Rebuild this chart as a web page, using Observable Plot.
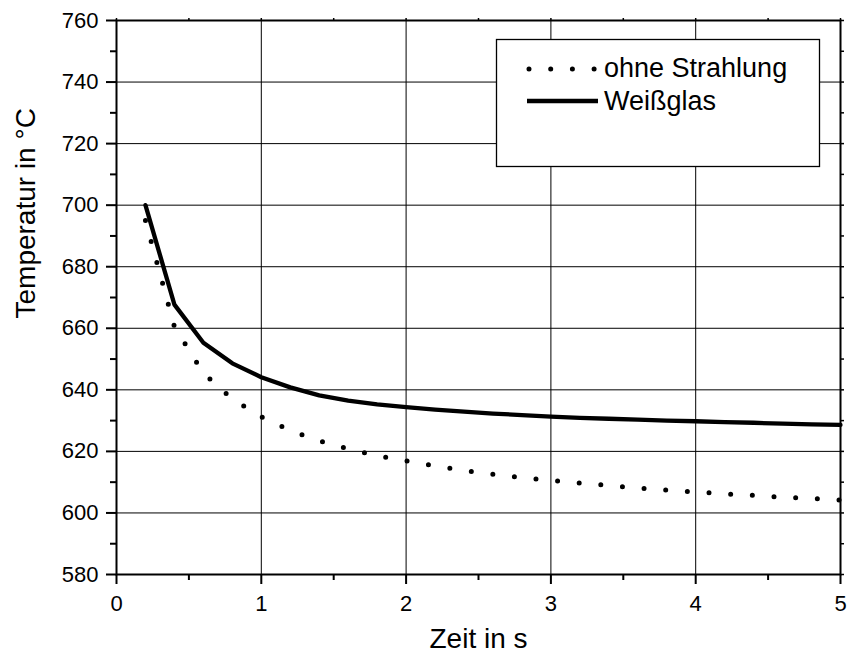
<!DOCTYPE html>
<html>
<head>
<meta charset="utf-8">
<script src="https://cdn.jsdelivr.net/npm/d3@7"></script>
<script src="https://cdn.jsdelivr.net/npm/@observablehq/plot@0.6"></script>
<style>
  html, body { margin: 0; padding: 0; background: #fff; }
  #wrap { position: relative; width: 849px; height: 664px; font-family: "Liberation Sans", Arial, sans-serif; }
  #legend { position: absolute; left: 0; top: 0; }
</style>
</head>
<body>
<div id="wrap"></div>
<script>
// Time in s
const timeS = [0.2,0.4,0.6,0.8,1.0,1.2,1.4,1.6,1.8,2.0,2.2,2.4,2.6,2.8,3.0,3.2,3.4,3.6,3.8,4.0,4.2,4.4,4.6,4.8,5.0];
// "ohne Strahlung" (dotted)
const ohneStrahlung = [695,660.5,645.4,637.0,631.2,626.8,623.4,620.8,618.6,616.9,615.3,613.8,612.6,611.5,610.6,609.7,608.9,608.1,607.4,606.8,606.2,605.7,605.1,604.7,604.2];
// "Weißglas" (solid)
const weissglas = [700,667.7,655.3,648.6,644.1,640.8,638.2,636.5,635.3,634.4,633.6,632.9,632.3,631.8,631.3,630.9,630.6,630.3,630.0,629.8,629.5,629.3,629.0,628.8,628.6];

const seriesNames = ["ohne Strahlung", "Weißglas"];
const xMajor = [0,1,2,3,4,5];
const xMinor = [0.5,1.5,2.5,3.5,4.5];
const yMajor = [580,600,620,640,660,680,700,720,740,760];
const yMinor = [590,610,630,650,670,690,710,730,750];
const xGrid = [1,2,3,4];
const yGrid = [600,620,640,660,680,700,720,740];

const dataOhne = timeS.map((t, i) => ({t, v: ohneStrahlung[i]}));
const dataWeiss = timeS.map((t, i) => ({t, v: weissglas[i]}));

const font = "'Liberation Sans', Arial, sans-serif";

const chart = Plot.plot({
  width: 849,
  height: 664,
  marginLeft: 116,
  marginRight: 9,
  marginTop: 20,
  marginBottom: 90,
  style: { fontFamily: font, fontSize: "22px", color: "#000", background: "#fff", overflow: "visible" },
  x: { domain: [0, 5] },
  y: { domain: [580, 760] },
  marks: [
    Plot.gridX(xGrid, { stroke: "#000", strokeOpacity: 1, strokeWidth: 1 }),
    Plot.gridY(yGrid, { stroke: "#000", strokeOpacity: 1, strokeWidth: 1 }),
    Plot.axisX(xMajor, { tickSize: 10, tickPadding: 11, fontSize: 22, label: null, strokeWidth: 2, tickFormat: d => String(d) }),
    Plot.axisX(xMinor, { tickSize: 6, text: null, label: null, strokeWidth: 2 }),
    Plot.axisX(xMajor.concat(xMinor), { anchor: "top", tickSize: 3, text: null, label: null, strokeWidth: 1.5 }),
    Plot.axisY(yMajor, { tickSize: 10, tickPadding: 8, fontSize: 22, label: null, strokeWidth: 2, tickFormat: d => String(d) }),
    Plot.axisY(yMinor, { tickSize: 6, text: null, label: null, strokeWidth: 2 }),
    Plot.axisY(yMajor.concat(yMinor), { anchor: "right", tickSize: 3, text: null, label: null, strokeWidth: 1.5 }),
    Plot.frame({ stroke: "#000", strokeWidth: 2 }),
    Plot.line(dataOhne, { x: "t", y: "v", stroke: "#000", strokeWidth: 5, strokeDasharray: "0 21.7", strokeLinecap: "round" }),
    Plot.line(dataWeiss, { x: "t", y: "v", stroke: "#000", strokeWidth: 4.3, strokeLinejoin: "round" }),
    Plot.text(["Zeit in s"], { frameAnchor: "bottom", dy: 73, fontSize: 28, fill: "#000" }),
    Plot.text(["Temperatur in °C"], { frameAnchor: "left", rotate: -90, dx: -90, dy: 21, fontSize: 28, fill: "#000" })
  ]
});

const wrap = document.getElementById("wrap");
wrap.appendChild(chart);

// Legend overlay
const ns = "http://www.w3.org/2000/svg";
const leg = document.createElementNS(ns, "svg");
leg.setAttribute("id", "legend");
leg.setAttribute("width", 849);
leg.setAttribute("height", 664);
leg.setAttribute("style", "position:absolute;left:0;top:0;pointer-events:none");
function el(tag, attrs) {
  const e = document.createElementNS(ns, tag);
  for (const k in attrs) e.setAttribute(k, attrs[k]);
  return e;
}
leg.appendChild(el("rect", { x: 496.5, y: 39.5, width: 323, height: 127, fill: "#fff", stroke: "#000", "stroke-width": 1.3 }));
leg.appendChild(el("line", { x1: 529, y1: 69, x2: 598, y2: 69, stroke: "#000", "stroke-width": 5, "stroke-dasharray": "0 21.7", "stroke-linecap": "round" }));
leg.appendChild(el("line", { x1: 527, y1: 101, x2: 598, y2: 101, stroke: "#000", "stroke-width": 4.3 }));
const t1 = el("text", { x: 604, y: 77, "font-size": 27, "font-family": font, fill: "#000" });
t1.textContent = seriesNames[0];
const t2 = el("text", { x: 604, y: 110, "font-size": 27, "font-family": font, fill: "#000" });
t2.textContent = seriesNames[1];
leg.appendChild(t1);
leg.appendChild(t2);
wrap.appendChild(leg);
</script>
</body>
</html>
